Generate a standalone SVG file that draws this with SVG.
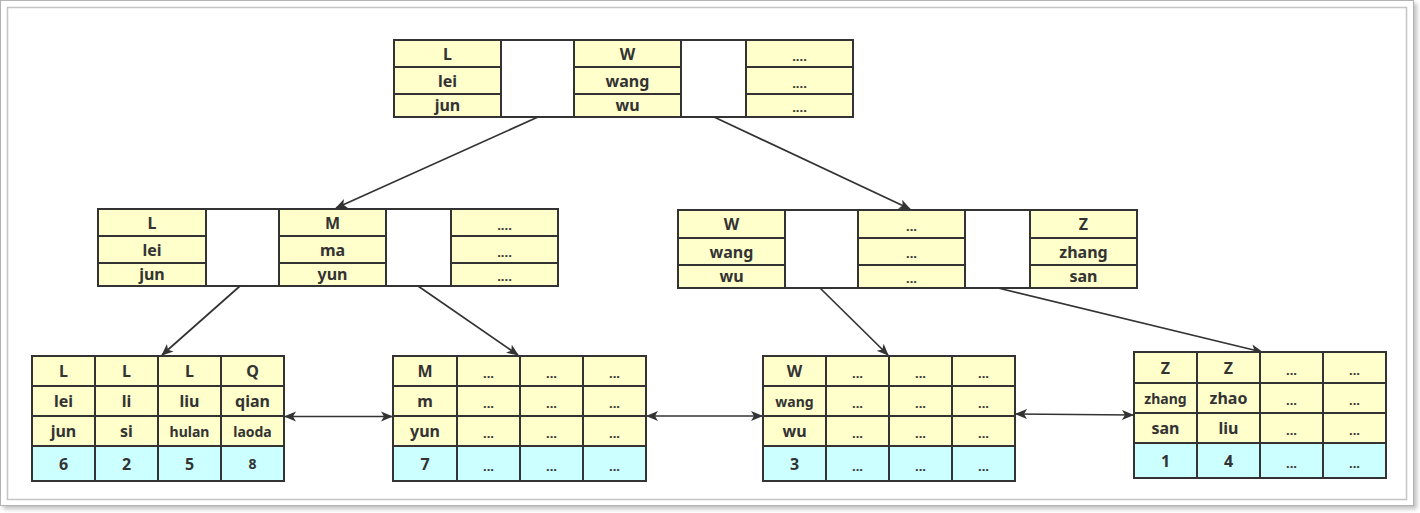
<svg xmlns="http://www.w3.org/2000/svg" width="1420" height="513" viewBox="0 0 1420 513">
<style>
.y{fill:#FFFFCC;stroke:#333;stroke-width:2}
.c{fill:#CCFFFF;stroke:#333;stroke-width:2}
.w{fill:#FFFFFF;stroke:#333;stroke-width:2}
text{font-family:"Noto Sans","DejaVu Sans",sans-serif;font-weight:bold;font-size:16px;fill:#333;text-anchor:middle;dominant-baseline:central}
.s{font-size:14px}
.d{font-size:13px}
.e{stroke:#333;stroke-width:1.7;fill:none}
</style>
<defs>
<marker id="ah" markerWidth="12" markerHeight="12" refX="11" refY="6" orient="auto" markerUnits="userSpaceOnUse">
<path d="M0,1 L12,6 L0,11 L3,6 Z" fill="#333"/>
</marker>
<marker id="as" markerWidth="12" markerHeight="12" refX="1" refY="6" orient="auto" markerUnits="userSpaceOnUse">
<path d="M12,1 L0,6 L12,11 L9,6 Z" fill="#333"/>
</marker>
<filter id="sh" x="-2%" y="-2%" width="104%" height="106%">
<feGaussianBlur in="SourceAlpha" stdDeviation="2"/>
<feOffset dx="3" dy="3"/>
<feComponentTransfer><feFuncA type="linear" slope="0.25"/></feComponentTransfer>
<feMerge><feMergeNode/><feMergeNode in="SourceGraphic"/></feMerge>
</filter>
</defs>
<rect width="1420" height="513" fill="#fff"/>
<g id="frame">
<rect x="0.5" y="0.5" width="1413" height="505" fill="#fff" stroke="#b3b3b3" stroke-width="1" filter="url(#sh)"/>
<rect x="7.5" y="7.5" width="1399" height="492" fill="none" stroke="#c4c4c4" stroke-width="1.5"/>
</g>
<g id="connectors">
<line class="e" x1="538" y1="117" x2="336" y2="208" marker-end="url(#ah)"/>
<line class="e" x1="714" y1="117" x2="910" y2="209" marker-end="url(#ah)"/>
<line class="e" x1="240" y1="286" x2="162" y2="355" marker-end="url(#ah)"/>
<line class="e" x1="418" y1="286" x2="518" y2="355" marker-end="url(#ah)"/>
<line class="e" x1="820" y1="288" x2="888" y2="355" marker-end="url(#ah)"/>
<line class="e" x1="998" y1="288" x2="1262" y2="352" marker-end="url(#ah)"/>
<line class="e" x1="285" y1="416.5" x2="392" y2="416.5" marker-start="url(#as)" marker-end="url(#ah)"/>
<line class="e" x1="647" y1="416" x2="762" y2="416" marker-start="url(#as)" marker-end="url(#ah)"/>
<line class="e" x1="1016" y1="414" x2="1133" y2="415" marker-start="url(#as)" marker-end="url(#ah)"/>
</g>
<g id="root">
<rect class="y" x="394" y="40" width="107" height="27"/><rect class="y" x="394" y="67" width="107" height="27"/><rect class="y" x="394" y="94" width="107" height="23"/>
<rect class="w" x="501" y="40" width="73" height="77"/>
<rect class="y" x="574" y="40" width="107" height="27"/><rect class="y" x="574" y="67" width="107" height="27"/><rect class="y" x="574" y="94" width="107" height="23"/>
<rect class="w" x="681" y="40" width="65" height="77"/>
<rect class="y" x="746" y="40" width="107" height="27"/><rect class="y" x="746" y="67" width="107" height="27"/><rect class="y" x="746" y="94" width="107" height="23"/>
<text x="447.5" y="54">L</text><text x="447.5" y="80.5">lei</text><text x="447.5" y="105">jun</text>
<text x="627.5" y="54">W</text><text x="627.5" y="80.5">wang</text><text x="627.5" y="105">wu</text>
<text class="d" x="799.5" y="56">....</text><text class="d" x="799.5" y="83">....</text><text class="d" x="799.5" y="107">....</text>
</g>
<g id="mid-left">
<rect class="y" x="98" y="209" width="108" height="27"/><rect class="y" x="98" y="236" width="108" height="27"/><rect class="y" x="98" y="263" width="108" height="23"/>
<rect class="w" x="206" y="209" width="73" height="77"/>
<rect class="y" x="279" y="209" width="107" height="27"/><rect class="y" x="279" y="236" width="107" height="27"/><rect class="y" x="279" y="263" width="107" height="23"/>
<rect class="w" x="386" y="209" width="65" height="77"/>
<rect class="y" x="451" y="209" width="107" height="27"/><rect class="y" x="451" y="236" width="107" height="27"/><rect class="y" x="451" y="263" width="107" height="23"/>
<text x="152" y="223">L</text><text x="152" y="249.5">lei</text><text x="152" y="274">jun</text>
<text x="332.5" y="223">M</text><text x="332.5" y="249.5">ma</text><text x="332.5" y="274">yun</text>
<text class="d" x="504.5" y="225">....</text><text class="d" x="504.5" y="252">....</text><text class="d" x="504.5" y="276">....</text>
</g>
<g id="mid-right">
<rect class="y" x="678" y="210" width="107" height="28"/><rect class="y" x="678" y="238" width="107" height="27"/><rect class="y" x="678" y="265" width="107" height="23"/>
<rect class="w" x="785" y="210" width="73" height="78"/>
<rect class="y" x="858" y="210" width="107" height="28"/><rect class="y" x="858" y="238" width="107" height="27"/><rect class="y" x="858" y="265" width="107" height="23"/>
<rect class="w" x="965" y="210" width="65" height="78"/>
<rect class="y" x="1030" y="210" width="107" height="28"/><rect class="y" x="1030" y="238" width="107" height="27"/><rect class="y" x="1030" y="265" width="107" height="23"/>
<text x="731.5" y="224">W</text><text x="731.5" y="251.5">wang</text><text x="731.5" y="276">wu</text>
<text class="d" x="911.5" y="226">...</text><text class="d" x="911.5" y="253">...</text><text class="d" x="911.5" y="278">...</text>
<text x="1083.5" y="224">Z</text><text x="1083.5" y="251.5">zhang</text><text x="1083.5" y="276">san</text>
</g>
<g id="leaf1">
<rect class="y" x="32" y="356" width="63" height="30"/><rect class="y" x="95" y="356" width="63" height="30"/><rect class="y" x="158" y="356" width="63" height="30"/><rect class="y" x="221" y="356" width="63" height="30"/>
<rect class="y" x="32" y="386" width="63" height="30"/><rect class="y" x="95" y="386" width="63" height="30"/><rect class="y" x="158" y="386" width="63" height="30"/><rect class="y" x="221" y="386" width="63" height="30"/>
<rect class="y" x="32" y="416" width="63" height="30"/><rect class="y" x="95" y="416" width="63" height="30"/><rect class="y" x="158" y="416" width="63" height="30"/><rect class="y" x="221" y="416" width="63" height="30"/>
<rect class="c" x="32" y="446" width="63" height="35"/><rect class="c" x="95" y="446" width="63" height="35"/><rect class="c" x="158" y="446" width="63" height="35"/><rect class="c" x="221" y="446" width="63" height="35"/>
<text x="63.5" y="371">L</text><text x="126.5" y="371">L</text><text x="189.5" y="371">L</text><text x="252.5" y="371">Q</text>
<text x="63.5" y="401">lei</text><text x="126.5" y="401">li</text><text x="189.5" y="401">liu</text><text x="252.5" y="401">qian</text>
<text x="63.5" y="431">jun</text><text x="126.5" y="431">si</text><text class="s" x="189.5" y="431">hulan</text><text class="s" x="252.5" y="431">laoda</text>
<text x="63.5" y="463.5">6</text><text x="126.5" y="463.5">2</text><text x="189.5" y="463.5">5</text><text class="s" x="252.5" y="463.5">8</text>
</g>
<g id="leaf2">
<rect class="y" x="393" y="356" width="64" height="30"/><rect class="y" x="457" y="356" width="63" height="30"/><rect class="y" x="520" y="356" width="63" height="30"/><rect class="y" x="583" y="356" width="63" height="30"/>
<rect class="y" x="393" y="386" width="64" height="30"/><rect class="y" x="457" y="386" width="63" height="30"/><rect class="y" x="520" y="386" width="63" height="30"/><rect class="y" x="583" y="386" width="63" height="30"/>
<rect class="y" x="393" y="416" width="64" height="30"/><rect class="y" x="457" y="416" width="63" height="30"/><rect class="y" x="520" y="416" width="63" height="30"/><rect class="y" x="583" y="416" width="63" height="30"/>
<rect class="c" x="393" y="446" width="64" height="35"/><rect class="c" x="457" y="446" width="63" height="35"/><rect class="c" x="520" y="446" width="63" height="35"/><rect class="c" x="583" y="446" width="63" height="35"/>
<text x="425" y="371">M</text><text class="d" x="488.5" y="373">...</text><text class="d" x="551.5" y="373">...</text><text class="d" x="614.5" y="373">...</text>
<text x="425" y="401">m</text><text class="d" x="488.5" y="403">...</text><text class="d" x="551.5" y="403">...</text><text class="d" x="614.5" y="403">...</text>
<text x="425" y="431">yun</text><text class="d" x="488.5" y="433">...</text><text class="d" x="551.5" y="433">...</text><text class="d" x="614.5" y="433">...</text>
<text x="425" y="463.5">7</text><text class="d" x="488.5" y="466">...</text><text class="d" x="551.5" y="466">...</text><text class="d" x="614.5" y="466">...</text>
</g>
<g id="leaf3">
<rect class="y" x="763" y="356" width="63" height="30"/><rect class="y" x="826" y="356" width="63" height="30"/><rect class="y" x="889" y="356" width="63" height="30"/><rect class="y" x="952" y="356" width="63" height="30"/>
<rect class="y" x="763" y="386" width="63" height="30"/><rect class="y" x="826" y="386" width="63" height="30"/><rect class="y" x="889" y="386" width="63" height="30"/><rect class="y" x="952" y="386" width="63" height="30"/>
<rect class="y" x="763" y="416" width="63" height="30"/><rect class="y" x="826" y="416" width="63" height="30"/><rect class="y" x="889" y="416" width="63" height="30"/><rect class="y" x="952" y="416" width="63" height="30"/>
<rect class="c" x="763" y="446" width="63" height="35"/><rect class="c" x="826" y="446" width="63" height="35"/><rect class="c" x="889" y="446" width="63" height="35"/><rect class="c" x="952" y="446" width="63" height="35"/>
<text x="794.5" y="371">W</text><text class="d" x="857.5" y="373">...</text><text class="d" x="920.5" y="373">...</text><text class="d" x="983.5" y="373">...</text>
<text class="s" x="794.5" y="401">wang</text><text class="d" x="857.5" y="403">...</text><text class="d" x="920.5" y="403">...</text><text class="d" x="983.5" y="403">...</text>
<text x="794.5" y="431">wu</text><text class="d" x="857.5" y="433">...</text><text class="d" x="920.5" y="433">...</text><text class="d" x="983.5" y="433">...</text>
<text x="794.5" y="463.5">3</text><text class="d" x="857.5" y="466">...</text><text class="d" x="920.5" y="466">...</text><text class="d" x="983.5" y="466">...</text>
</g>
<g id="leaf4">
<rect class="y" x="1134" y="352" width="63" height="31"/><rect class="y" x="1197" y="352" width="63" height="31"/><rect class="y" x="1260" y="352" width="63" height="31"/><rect class="y" x="1323" y="352" width="63" height="31"/>
<rect class="y" x="1134" y="383" width="63" height="30"/><rect class="y" x="1197" y="383" width="63" height="30"/><rect class="y" x="1260" y="383" width="63" height="30"/><rect class="y" x="1323" y="383" width="63" height="30"/>
<rect class="y" x="1134" y="413" width="63" height="30"/><rect class="y" x="1197" y="413" width="63" height="30"/><rect class="y" x="1260" y="413" width="63" height="30"/><rect class="y" x="1323" y="413" width="63" height="30"/>
<rect class="c" x="1134" y="443" width="63" height="35"/><rect class="c" x="1197" y="443" width="63" height="35"/><rect class="c" x="1260" y="443" width="63" height="35"/><rect class="c" x="1323" y="443" width="63" height="35"/>
<text x="1165.5" y="367.5">Z</text><text x="1228.5" y="367.5">Z</text><text class="d" x="1291.5" y="370">...</text><text class="d" x="1354.5" y="370">...</text>
<text class="s" x="1165.5" y="398">zhang</text><text x="1228.5" y="398">zhao</text><text class="d" x="1291.5" y="400">...</text><text class="d" x="1354.5" y="400">...</text>
<text x="1165.5" y="428">san</text><text x="1228.5" y="428">liu</text><text class="d" x="1291.5" y="430">...</text><text class="d" x="1354.5" y="430">...</text>
<text x="1165.5" y="460.5">1</text><text x="1228.5" y="460.5">4</text><text class="d" x="1291.5" y="463">...</text><text class="d" x="1354.5" y="463">...</text>
</g>
</svg>
